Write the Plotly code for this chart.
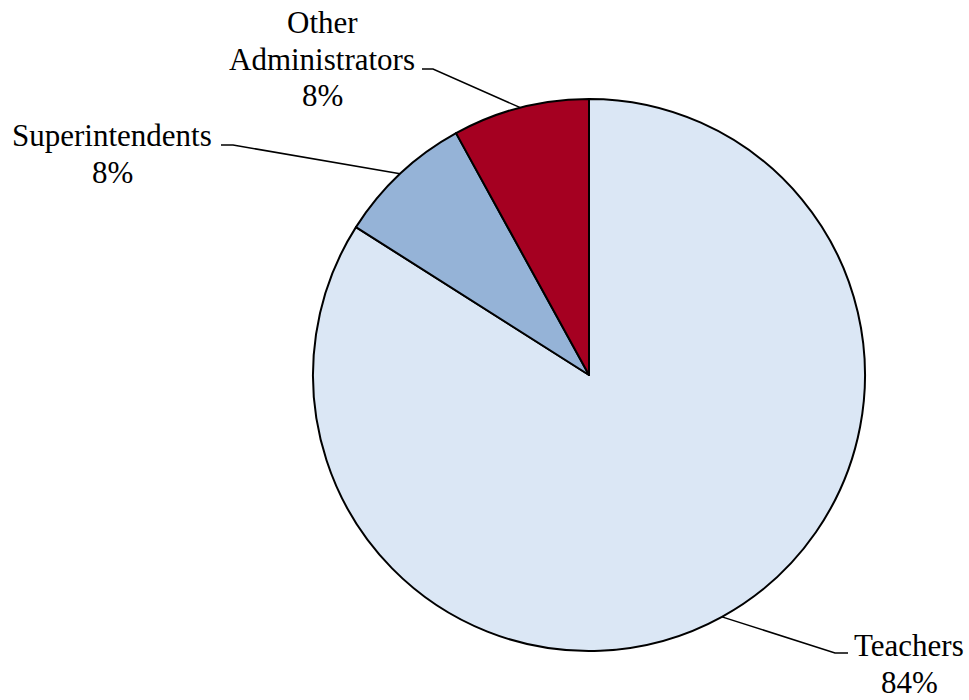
import math
import plotly.graph_objects as go

# Staff composition (listed clockwise from 12 o'clock)
labels = ["Teachers", "Superintendents", "Other Administrators"]
values = [84, 8, 8]
colors = ["#DBE7F5", "#95B3D7", "#A50021"]

W, H = 969, 700
CX, CY, R = 589, 375, 276
FONT = "Liberation Serif, Times New Roman, serif"
FONT_SIZE = 31

fig = go.Figure(go.Pie(
    labels=labels,
    values=values,
    sort=False,
    direction="clockwise",
    rotation=0,
    textinfo="none",
    hoverinfo="label+percent",
    marker=dict(colors=colors, line=dict(color="black", width=2)),
    domain=dict(x=[(CX - R) / W, (CX + R) / W], y=[(H - CY - R) / H, (H - CY + R) / H]),
    showlegend=False,
))

# leader-line elbow (outer end, inner end), label lines, text center x, first line center y
callouts = {
    "Other Administrators": ((422, 69), (433, 69), ["Other", "Administrators"], 322, 22),
    "Superintendents": ((221, 145), (233, 145), ["Superintendents"], 112, 135),
    "Teachers": ((848, 653), (835, 653), ["Teachers"], 909, 645),
}
LINE_GAP = 37

def px(x, y):
    return x / W, 1 - y / H

total = sum(values)
cum = 0
shapes, annotations = [], []
for lab, v in zip(labels, values):
    mid = (cum + v / 2) / total * 2 * math.pi
    cum += v
    tx = CX + math.sin(mid) * R
    ty = CY - math.cos(mid) * R
    (ax, ay), (bx, by), lines, lx, ly = callouts[lab]
    pts = [px(ax, ay), px(bx, by), px(tx, ty)]
    path = "M {} {} L {} {} L {} {}".format(*[c for p in pts for c in p])
    shapes.append(dict(type="path", xref="paper", yref="paper", path=path,
                       line=dict(color="black", width=1.5)))
    pct = round(v / total * 100)
    for i, t in enumerate(lines + [f"{pct}%"]):
        xp, yp = px(lx, ly + i * LINE_GAP)
        annotations.append(dict(xref="paper", yref="paper", x=xp, y=yp, text=t,
                                showarrow=False, xanchor="center", yanchor="middle",
                                font=dict(family=FONT, size=FONT_SIZE, color="black")))

fig.update_layout(
    width=W, height=H,
    margin=dict(l=0, r=0, t=0, b=0),
    paper_bgcolor="white", plot_bgcolor="white",
    font=dict(family=FONT),
    shapes=shapes, annotations=annotations,
)

fig.write_html("out.html")
